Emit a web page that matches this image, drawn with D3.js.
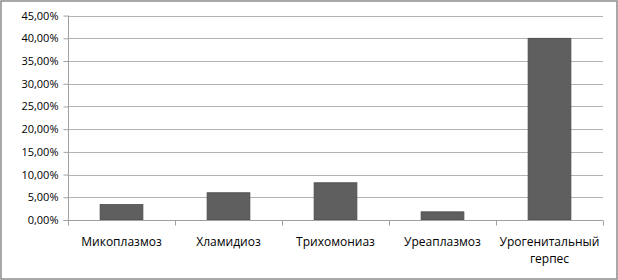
<!DOCTYPE html>
<html><head><meta charset="utf-8">
<script src="https://cdn.jsdelivr.net/npm/d3@7"></script>
<style>body{margin:0;background:#fff}svg{display:block}text{font-family:"Open Sans",sans-serif;fill:#000}</style>
</head><body>
<svg id="c" width="618" height="280"></svg>
<script>
const categories = [["Микоплазмоз"],["Хламидиоз"],["Трихомониаз"],["Уреаплазмоз"],["Урогенитальный","герпес"]];
const values = [0.034, 0.060, 0.082, 0.018, 0.400];
const yTicks = [0,0.05,0.10,0.15,0.20,0.25,0.30,0.35,0.40,0.45];

const svg = d3.select("#c");
svg.append("rect").attr("x",1).attr("y",1).attr("width",616).attr("height",278)
  .attr("fill","#fff").attr("stroke","#8c8c8c").attr("stroke-width",1.5);

const x0=68, x1=603, yTop=15.6, yBot=220;
const x = d3.scaleBand().domain(d3.range(categories.length)).range([x0,x1]).paddingInner(0.6).paddingOuter(0.3);
const xb = d3.scaleBand().domain(d3.range(categories.length)).range([x0,x1]);
const y = d3.scaleLinear().domain([0,0.45]).range([yBot,yTop]);
const fmt = v => d3.format(".2f")(v*100).replace(".",",")+"%";

// gridlines
svg.append("g").selectAll("line").data(yTicks.slice(1)).join("line")
  .attr("x1",x0).attr("x2",x1).attr("y1",d=>Math.round(y(d))+0.5).attr("y2",d=>Math.round(y(d))+0.5)
  .attr("stroke","#b3b3b3").attr("stroke-width",1);

// y axis
const ya = svg.append("g").attr("transform",`translate(${x0+0.5},0)`)
  .call(d3.axisLeft(y).tickValues(yTicks).tickFormat(fmt).tickSize(5).tickPadding(5));
ya.selectAll("path,line").attr("stroke","#a0a0a0");
ya.select(".domain").attr("d",`M0,${yTop}V${yBot}`);
ya.selectAll("text").style("font-family","Open Sans").style("font-size","11px").attr("fill","#000");

// bars
svg.append("g").selectAll("rect").data(values).join("rect")
  .attr("x",(d,i)=>x(i)).attr("width",x.bandwidth())
  .attr("y",d=>y(d)).attr("height",d=>yBot-y(d))
  .attr("fill","#5f5f5f").attr("stroke","#4a4a4a").attr("stroke-width",0.8);

// x axis
const xa = svg.append("g").attr("transform",`translate(0,${yBot+0.5})`);
xa.append("line").attr("x1",x0).attr("x2",x1).attr("stroke","#a0a0a0");
xa.selectAll("line.t").data(d3.range(categories.length+1)).join("line").attr("class","t")
  .attr("x1",i=>Math.round(x0+i*xb.step())+0.5).attr("x2",i=>Math.round(x0+i*xb.step())+0.5)
  .attr("y1",0).attr("y2",5).attr("stroke","#a0a0a0");
const lines = categories.flatMap((d,i)=>d.map((s,k)=>({i,k,s})));
svg.append("g").selectAll("text").data(lines).join("text")
  .attr("x",d=>xb(d.i)+xb.bandwidth()/2).attr("y",d=>246+d.k*16.5)
  .attr("text-anchor","middle").style("font-size","12px").text(d=>d.s);
</script>
</body></html>
